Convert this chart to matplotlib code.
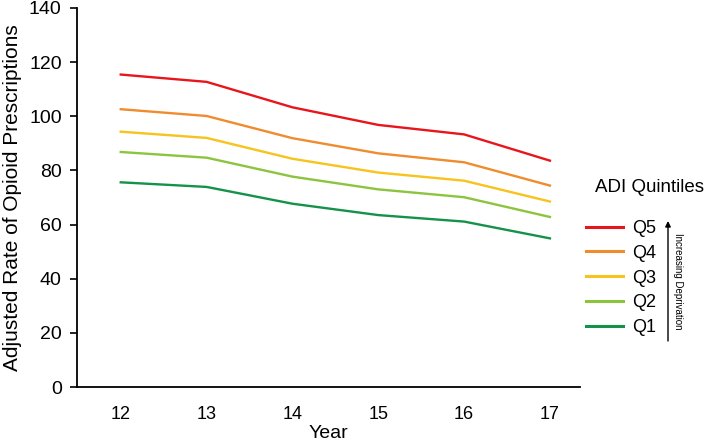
import matplotlib
matplotlib.use("Agg")
import matplotlib.pyplot as plt

plt.rcParams['font.family'] = ['Liberation Sans', 'DejaVu Sans']

years = [12, 13, 14, 15, 16, 17]
q5 = [115.4, 112.7, 103.3, 96.8, 93.3, 83.6]
q4 = [102.6, 100.1, 91.9, 86.3, 83.0, 74.4]
q3 = [94.3, 92.0, 84.3, 79.2, 76.2, 68.5]
q2 = [86.8, 84.7, 77.7, 73.0, 70.1, 62.8]
q1 = [75.6, 73.9, 67.7, 63.5, 61.1, 54.9]
series = [("Q5", q5, "#E8161C"), ("Q4", q4, "#EF8C2E"), ("Q3", q3, "#F7C31C"),
          ("Q2", q2, "#8CC43F"), ("Q1", q1, "#15924A")]
yticks = [0, 20, 40, 60, 80, 100, 120, 140]

W, H = 706, 441
fig = plt.figure(figsize=(W / 100, H / 100), dpi=100)
ax = fig.add_axes([0.109, 0.1224, 0.7125, 0.8596])
for name, vals, col in series:
    ax.plot(years, vals, color=col, lw=1.7, label=name)

ax.set_xlim(11.49, 17.35)
ax.set_ylim(0, 140)
ax.set_yticks(yticks)
ax.set_xticks(years)
ax.tick_params(axis='x', length=0, labelsize=13, pad=14)
ax.tick_params(axis='y', length=5, width=1.2, labelsize=14, pad=6)
for s in ['top', 'right']:
    ax.spines[s].set_visible(False)
for s in ['left', 'bottom']:
    ax.spines[s].set_linewidth(1.3)
ax.set_xlabel("Year", fontsize=14, labelpad=1)
ax.set_ylabel("Adjusted Rate of Opioid Prescriptions", fontsize=15, labelpad=5)

fig.text(595 / W, 1 - 188 / H, "ADI Quintiles", fontsize=13.5, ha='left', va='center')
leg = fig.legend(loc='upper left', bbox_to_anchor=(586 / W, 1 - 220 / H), frameon=False,
                 fontsize=13, borderpad=0, borderaxespad=0,
                 handlelength=2.05, handletextpad=0.5, labelspacing=0.43)
for h in leg.get_lines():
    h.set_linewidth(2.2)

fig.patches.append(matplotlib.patches.FancyArrowPatch(
    (668 / W, 1 - 341 / H), (668 / W, 1 - 221 / H), transform=fig.transFigure,
    arrowstyle='-|>', mutation_scale=8, color='black', lw=1.0, shrinkA=0, shrinkB=0))
fig.text(678 / W, 1 - 281 / H, "Increasing Deprivation", rotation=-90,
         fontsize=7, ha='center', va='center')

fig.savefig("out.png", dpi=100)
